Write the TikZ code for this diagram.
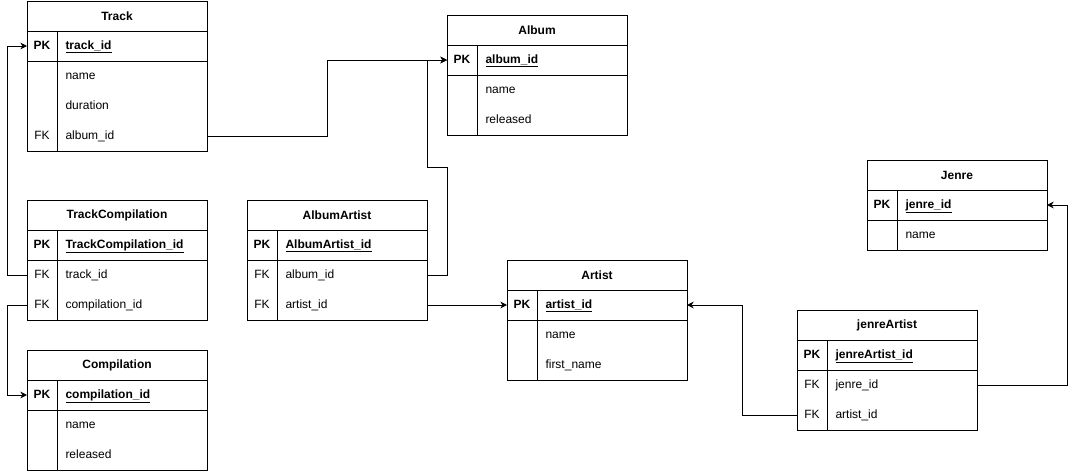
\documentclass[tikz,border=0pt]{standalone}
\usepackage{fontspec}
\setmainfont{Liberation Sans}
\usetikzlibrary{positioning,calc,arrows.meta}

\newcommand{\erfont}{\fontsize{9}{11}\selectfont}

\tikzset{
  tblhead/.style={draw, minimum width=135pt, minimum height=22.5pt, inner sep=0pt, outer sep=0pt, font=\erfont\bfseries},
  tblrow/.style={draw, minimum width=135pt, minimum height=22.5pt, inner sep=0pt, outer sep=0pt},
  tblcell/.style={minimum width=135pt, minimum height=22.5pt, inner sep=0pt, outer sep=0pt},
  keytext/.style={inner sep=0pt, text height=6.6pt, text depth=1.9pt, font=\erfont},
  fieldtext/.style={inner sep=0pt, anchor=west, text height=6.6pt, text depth=1.9pt, font=\erfont},
  fk/.style={-{Stealth[length=5pt,width=5pt,inset=1.6pt]}},
}

% #1 name, #2 left, #3 top, #4 title, #5 primary key, #6 key/field list
\newcommand{\ertable}[6]{%
  \node[tblhead] (#1) at (#2+90,#3+15) {#4};
  \node[tblrow, below=0pt of #1] (#1-pk) {};
  \node[keytext, font=\erfont\bfseries] at ($(#1-pk.west)+(15,0)$) {PK};
  \node[fieldtext, font=\erfont\bfseries] at ($(#1-pk.west)+(38,0)$) {\underline{#5}};
  \foreach \k/\f [count=\i] in {#6}
  {
    \node[tblcell] (#1-\i) at ($(#1-pk.south)+(0,30*\i-15)$) {};
    \node[keytext] at ($(#1-\i.west)+(15,0)$) {\k};
    \node[fieldtext] at ($(#1-\i.west)+(38,0)$) {\f};
    \xdef\ertlast{\i}
  };
  \draw (#1-pk.south west) rectangle (#1-\ertlast.south east);
  \draw ($(#1.south west)+(30,0)$) -- ($(#1-\ertlast.south west)+(30,0)$);
}

\begin{document}
\begin{tikzpicture}[x=0.75pt, y=-0.75pt, line width=0.75pt]
\useasboundingbox (0,0) rectangle (1076,471);

\ertable{track}{27}{1}{Track}{track\_id}{{}/name, {}/duration, FK/album\_id}
\ertable{album}{447}{15}{Album}{album\_id}{{}/name, {}/released}
\ertable{tc}{27}{200}{TrackCompilation}{TrackCompilation\_id}{FK/track\_id, FK/compilation\_id}
\ertable{aa}{247}{200}{AlbumArtist}{AlbumArtist\_id}{FK/album\_id, FK/artist\_id}
\ertable{comp}{27}{350}{Compilation}{compilation\_id}{{}/name, {}/released}
\ertable{artist}{507}{260}{Artist}{artist\_id}{{}/name, {}/first\_name}
\ertable{jenre}{867}{160}{Jenre}{jenre\_id}{{}/name}
\ertable{ja}{797}{310}{jenreArtist}{jenreArtist\_id}{FK/jenre\_id, FK/artist\_id}

% foreign keys
\draw[fk] (tc-1.west) -- ++(-20,0) |- (track-pk.west);
\draw[fk] (tc-2.west) -- ++(-20,0) |- (comp-pk.west);
\draw[fk] (track-3.east) -- ++(120,0) |- (album-pk.west);
\draw[fk] (aa-1.east) -- ++(20,0) -- ++(0,-108) -- ++(-20,0) |- (album-pk.west);
\draw[fk] (aa-2.east) -- (artist-pk.west);
\draw[fk] (ja-2.west) -- ++(-55,0) |- (artist-pk.east);
\draw[fk] (ja-1.east) -- ++(90,0) |- (jenre-pk.east);

\end{tikzpicture}
\end{document}
